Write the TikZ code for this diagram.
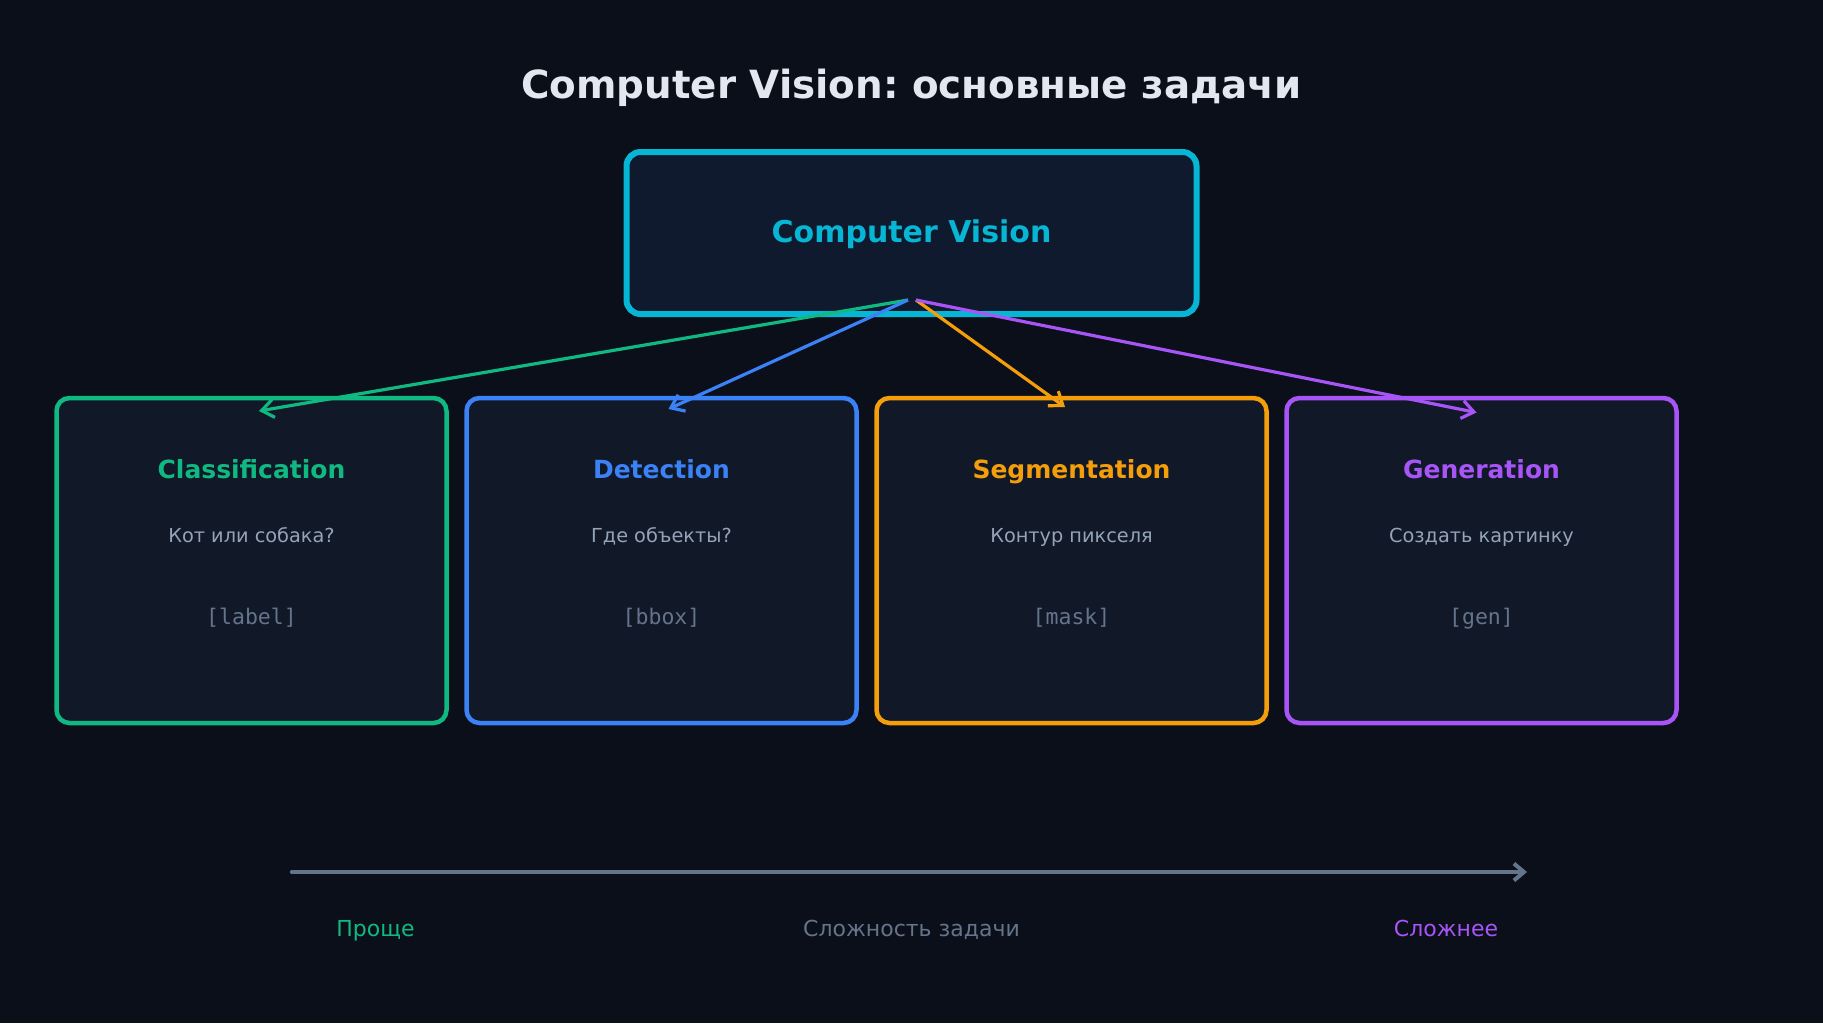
\documentclass[tikz,border=0pt]{standalone}
\usepackage{fontspec}
\setmainfont{DejaVu Sans}
\setmonofont{DejaVu Sans Mono}
\usetikzlibrary{arrows.meta}
\definecolor{bg}{HTML}{0B0F19}
\definecolor{boxfill}{HTML}{111827}
\definecolor{cvfill}{HTML}{0F1A2E}
\definecolor{cyanc}{HTML}{06B6D4}
\definecolor{greenc}{HTML}{10B981}
\definecolor{bluec}{HTML}{3B82F6}
\definecolor{orangec}{HTML}{F59E0B}
\definecolor{purplec}{HTML}{A855F7}
\definecolor{titlec}{HTML}{E2E8F0}
\definecolor{subc}{HTML}{94A3B8}
\definecolor{monoc}{HTML}{64748B}
\tikzset{
  taskbox/.style={draw, fill=boxfill, line width=4.5pt, rounded corners=13pt, minimum width=390pt, minimum height=325pt, inner sep=0pt},
  cvbox/.style={draw=cyanc, fill=cvfill, line width=6pt, rounded corners=14pt, minimum width=570pt, minimum height=162pt, inner sep=0pt},
  tasktitle/.style={font=\fontsize{25}{30}\selectfont\bfseries, inner sep=0pt, anchor=base},
  tasksub/.style={font=\fontsize{19.3}{23}\selectfont, text=subc, inner sep=0pt, anchor=base},
  taskmono/.style={font=\fontsize{21.5}{26}\selectfont\ttfamily, text=monoc, inner sep=0pt, anchor=base},
  arr/.style={line width=3.2pt, -{Straight Barb[length=12pt,width=18pt,line width=3.2pt]}},
  axislbl/.style={font=\fontsize{22}{26}\selectfont, inner sep=0pt, anchor=base},
}
\begin{document}
\frenchspacing
\begin{tikzpicture}[x=1pt,y=-1pt]
\fill[bg] (0,0) rectangle (1823,1023);
\useasboundingbox (0,0) rectangle (1823,1023);

\node[font=\fontsize{38.8}{44}\selectfont\bfseries, text=titlec, inner sep=0pt, anchor=base] (title) at (911.5,98) {Computer Vision: основные задачи};

\node[cvbox] (cv) at (911.5,233) {};
\node[font=\fontsize{30}{36}\selectfont\bfseries, text=cyanc, inner sep=0pt, anchor=base] (cvt) at (911.5,242.3) {Computer Vision};

\node[taskbox, draw=greenc] (cls) at (251.5,560.5) {};
\node[taskbox, draw=bluec] (det) at (661.5,560.5) {};
\node[taskbox, draw=orangec] (seg) at (1071.5,560.5) {};
\node[taskbox, draw=purplec] (gen) at (1481.5,560.5) {};

\node[tasktitle, text=greenc] (clsT) at (251.5,478.5) {Classification};
\node[tasksub] (clsS) at (251.5,542) {Кот или собака?};
\node[taskmono] (clsM) at (251.5,624.5) {[label]};

\node[tasktitle, text=bluec] (detT) at (661.5,478.5) {Detection};
\node[tasksub] (detS) at (661.5,542) {Где объекты?};
\node[taskmono] (detM) at (661.5,624.5) {[bbox]};

\node[tasktitle, text=orangec] (segT) at (1071.5,478.5) {Segmentation};
\node[tasksub] (segS) at (1071.5,542) {Контур пикселя};
\node[taskmono] (segM) at (1071.5,624.5) {[mask]};

\node[tasktitle, text=purplec] (genT) at (1481.5,478.5) {Generation};
\node[tasksub] (genS) at (1481.5,542) {Создать картинку};
\node[taskmono] (genM) at (1481.5,624.5) {[gen]};

\coordinate (cvA) at (908,300);
\coordinate (cvB) at (916,300);
\coordinate (clsIn) at (259,411);
\coordinate (detIn) at (668.5,409);
\coordinate (segIn) at (1065,407);
\coordinate (genIn) at (1476.5,412.5);

\draw[arr, greenc] (cvA) -- (clsIn);
\draw[arr, bluec] (cvA) -- (detIn);
\draw[arr, orangec] (cvB) -- (segIn);
\draw[arr, purplec] (cvB) -- (genIn);

\coordinate (axL) at (292,872);
\coordinate (axR) at (1527,872);
\draw[monoc, line width=4.5pt, line cap=round, -{Straight Barb[length=10pt,width=17pt,line width=4pt]}] (axL) -- (axR);

\node[axislbl, text=greenc] (easy) at (375.5,936.5) {Проще};
\node[axislbl, text=monoc] (cplx) at (911.5,936.5) {Сложность задачи};
\node[axislbl, text=purplec] (hard) at (1446,936.5) {Сложнее};
\end{tikzpicture}
\end{document}
